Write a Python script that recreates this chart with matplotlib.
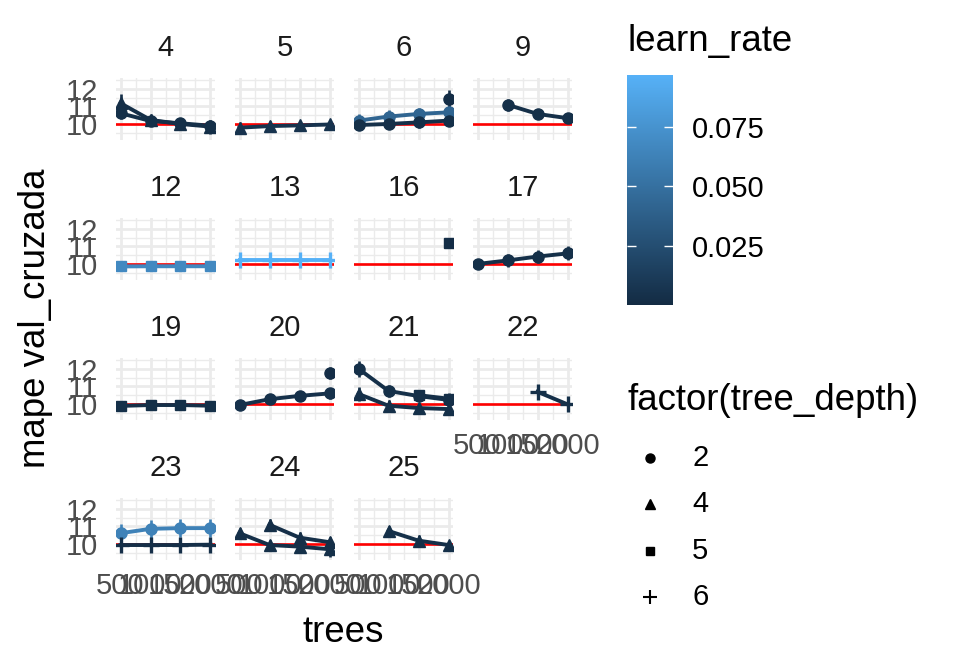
import matplotlib
matplotlib.use('Agg')
import matplotlib.pyplot as plt
import numpy as np
from matplotlib.colors import LinearSegmentedColormap, Normalize
from matplotlib.cm import ScalarMappable

plt.rcParams['font.family'] = ['Liberation Sans', 'DejaVu Sans']

# ---------------- data ----------------
facets = [4, 5, 6, 9, 12, 13, 16, 17, 19, 20, 21, 22, 23, 24, 25]
tree_ticks = [500, 1000, 1500, 2000]
mape_ticks = [10, 11, 12]
depth_levels = [2, 4, 5, 6]
lr_ticks = [0.025, 0.050, 0.075]
lr_tick_labels = ['0.025', '0.050', '0.075']
lr_limits = [0.0003, 0.0966]
reference_mape = 10

series_facet = [4, 4, 5, 6, 6, 6, 9, 12, 13, 16, 17, 19, 20, 20, 21, 21, 21, 22, 23, 23, 24, 24, 25]
series_lr = [0.003, 0.004, 0.006, 0.042, 0.004, 0.002, 0.004, 0.068, 0.0966, 0.002, 0.004,
             0.004, 0.005, 0.002, 0.004, 0.003, 0.004, 0.004, 0.063, 0.003, 0.004, 0.003, 0.004]
series_depth = [4, 2, 4, 2, 2, 2, 2, 5, 6, 5, 2, 5, 2, 2, 2, 5, 4, 6, 2, 6, 4, 4, 4]
series_trees = [
    [500, 1000, 1500, 2000],
    [500, 1000, 1500, 2000],
    [500, 1000, 1500, 2000],
    [500, 1000, 1500, 2000],
    [500, 1000, 1500, 2000],
    [2000],
    [1000, 1500, 2000],
    [500, 1000, 1500, 2000],
    [500, 1000, 1500, 2000],
    [2000],
    [500, 1000, 1500, 2000],
    [500, 1000, 1500, 2000],
    [500, 1000, 1500, 2000],
    [2000],
    [500, 1000, 1500, 2000],
    [1500, 2000],
    [500, 1000, 1500, 2000],
    [1500, 2000],
    [500, 1000, 1500, 2000],
    [500, 1000, 1500, 2000],
    [500, 1000, 1500, 2000],
    [1000, 1500, 2000],
    [1000, 1500, 2000],
]
series_mape = [
    [11.18, 10.23, 10.00, 9.85],
    [10.61, 10.17, 10.04, 9.90],
    [9.79, 9.88, 9.92, 9.97],
    [10.19, 10.42, 10.57, 10.66],
    [9.94, 10.00, 10.09, 10.19],
    [11.43],
    [11.09, 10.57, 10.33],
    [9.86, 9.87, 9.87, 9.87],
    [10.20, 10.20, 10.20, 10.20],
    [11.20],
    [10.00, 10.20, 10.42, 10.60],
    [9.89, 9.94, 9.94, 9.90],
    [9.94, 10.27, 10.46, 10.60],
    [11.77],
    [12.00, 10.74, 10.45, 10.23],
    [10.50, 10.30],
    [10.57, 9.90, 9.77, 9.71],
    [10.69, 9.98],
    [10.61, 10.86, 10.90, 10.90],
    [9.94, 9.94, 9.94, 9.96],
    [10.61, 9.94, 9.85, 9.70],
    [11.09, 10.36, 10.10],
    [10.74, 10.19, 9.94],
]
series_se = [
    [0.50, 0.35, 0.35, 0.40],
    [0.35, 0.30, 0.30, 0.30],
    [0.30, 0.30, 0.25, 0.25],
    [0.35, 0.35, 0.35, 0.35],
    [0.30, 0.30, 0.30, 0.30],
    [0.50],
    [0.35, 0.30, 0.25],
    [0.20, 0.20, 0.20, 0.20],
    [0.35, 0.35, 0.35, 0.35],
    [0.20],
    [0.30, 0.35, 0.35, 0.40],
    [0.25, 0.25, 0.25, 0.25],
    [0.25, 0.30, 0.30, 0.30],
    [0.35],
    [0.45, 0.35, 0.30, 0.30],
    [0.30, 0.30],
    [0.40, 0.30, 0.30, 0.30],
    [0.20, 0.20],
    [0.50, 0.50, 0.50, 0.50],
    [0.35, 0.35, 0.35, 0.35],
    [0.30, 0.30, 0.35, 0.45],
    [0.35, 0.30, 0.30],
    [0.30, 0.30, 0.25],
]

# ---------------- style ----------------
W, H = 960, 672
fig = plt.figure(figsize=(W / 100, H / 100), dpi=100)
cmap = LinearSegmentedColormap.from_list('gg', ['#132B43', '#56B1F7'])
norm = Normalize(vmin=lr_limits[0], vmax=lr_limits[1])
marker_style = {2: dict(marker='o', ms=8), 4: dict(marker='^', ms=8.5),
                5: dict(marker='s', ms=7.5), 6: dict(marker='+', ms=12, mew=2.4)}
legend_style = {2: dict(marker='o', ms=6.5), 4: dict(marker='^', ms=7),
                5: dict(marker='s', ms=6), 6: dict(marker='+', ms=10, mew=1.5)}

lows = [min(np.array(m) - np.array(s)) for m, s in zip(series_mape, series_se)]
highs = [max(np.array(m) + np.array(s)) for m, s in zip(series_mape, series_se)]
ylo, yhi = min(lows), max(highs)
yr = yhi - ylo
ylim = (ylo - 0.05 * yr, yhi + 0.05 * yr)
xr = tree_ticks[-1] - tree_ticks[0]
xlim = (tree_ticks[0] - 0.05 * xr, tree_ticks[-1] + 0.05 * xr)
x_minor = [(a + b) / 2 for a, b in zip(tree_ticks[:-1], tree_ticks[1:])]
y_minor = [mape_ticks[0] - 0.5] + [(a + b) / 2 for a, b in zip(mape_ticks[:-1], mape_ticks[1:])] + [mape_ticks[-1] + 0.5]

grid_col = '#EBEBEB'
ncol = 4
pw, ph = 99, 62
for i, f in enumerate(facets):
    r, c = divmod(i, ncol)
    left = 116 + c * 119
    top = 78 + r * 140
    ax = fig.add_axes([left / W, 1 - (top + ph) / H, pw / W, ph / H])
    ax.set_xlim(*xlim)
    ax.set_ylim(*ylim)
    ax.set_xticks(tree_ticks)
    ax.set_xticks(x_minor, minor=True)
    ax.set_yticks(mape_ticks)
    ax.set_yticks(y_minor, minor=True)
    ax.grid(which='major', color=grid_col, lw=1.95)
    ax.grid(which='minor', color=grid_col, lw=1.0)
    ax.set_axisbelow(True)
    for sp in ax.spines.values():
        sp.set_visible(False)
    ax.tick_params(which='both', length=0)
    show_y = (c == 0)
    show_x = (i + ncol >= len(facets))
    ax.tick_params(axis='y', labelleft=show_y, labelsize=21, labelcolor='#4D4D4D', pad=13)
    ax.tick_params(axis='x', labelbottom=show_x, labelsize=21, labelcolor='#4D4D4D', pad=9)
    ax.text(0.5, 1 + 30 / ph, str(f), transform=ax.transAxes, ha='center', va='center',
            fontsize=21, color='#1A1A1A')
    ax.axhline(reference_mape, color='red', lw=1.9, zorder=2)
    for sf, lr, d, t, m, s in zip(series_facet, series_lr, series_depth,
                                  series_trees, series_mape, series_se):
        if sf != f:
            continue
        col = cmap(norm(lr))
        t = np.array(t); m = np.array(m); s = np.array(s)
        ax.vlines(t, m - s, m + s, color=col, lw=1.9, zorder=3)
        ax.plot(t, m, color=col, lw=2.8, zorder=4, **marker_style[d])

# axis titles
fig.text(343 / W, 1 - 632 / H, 'trees', ha='center', va='center', fontsize=26.4)
fig.text(36 / W, 1 - 318 / H, 'mape val_cruzada', ha='center', va='center',
         rotation=90, fontsize=26.4)

# colour legend
fig.text(627 / W, 1 - 42 / H, 'learn_rate', ha='left', va='center', fontsize=26.4)
cax = fig.add_axes([627 / W, 1 - 305 / H, 46 / W, 230 / H])
cb = fig.colorbar(ScalarMappable(norm=norm, cmap=cmap), cax=cax, ticks=lr_ticks)
cb.set_ticklabels(lr_tick_labels)
cb.outline.set_visible(False)
cb.minorticks_off()
cax.tick_params(axis='y', which='major', left=True, right=True, direction='in',
                length=6.5, width=1, color='white', labelsize=21, pad=13.5)

# shape legend
lax = fig.add_axes([0, 0, 1, 1])
lax.set_xlim(0, W)
lax.set_ylim(H, 0)
lax.axis('off')
lax.text(627, 400, 'factor(tree_depth)', ha='left', va='center', fontsize=26.4)
for k, d in enumerate(depth_levels):
    yy = 458 + k * 46.3
    lax.plot([650], [yy], color='black', linestyle='none', **legend_style[d])
    lax.text(692, yy, str(d), ha='left', va='center', fontsize=21)

fig.savefig('out.png', dpi=100)
